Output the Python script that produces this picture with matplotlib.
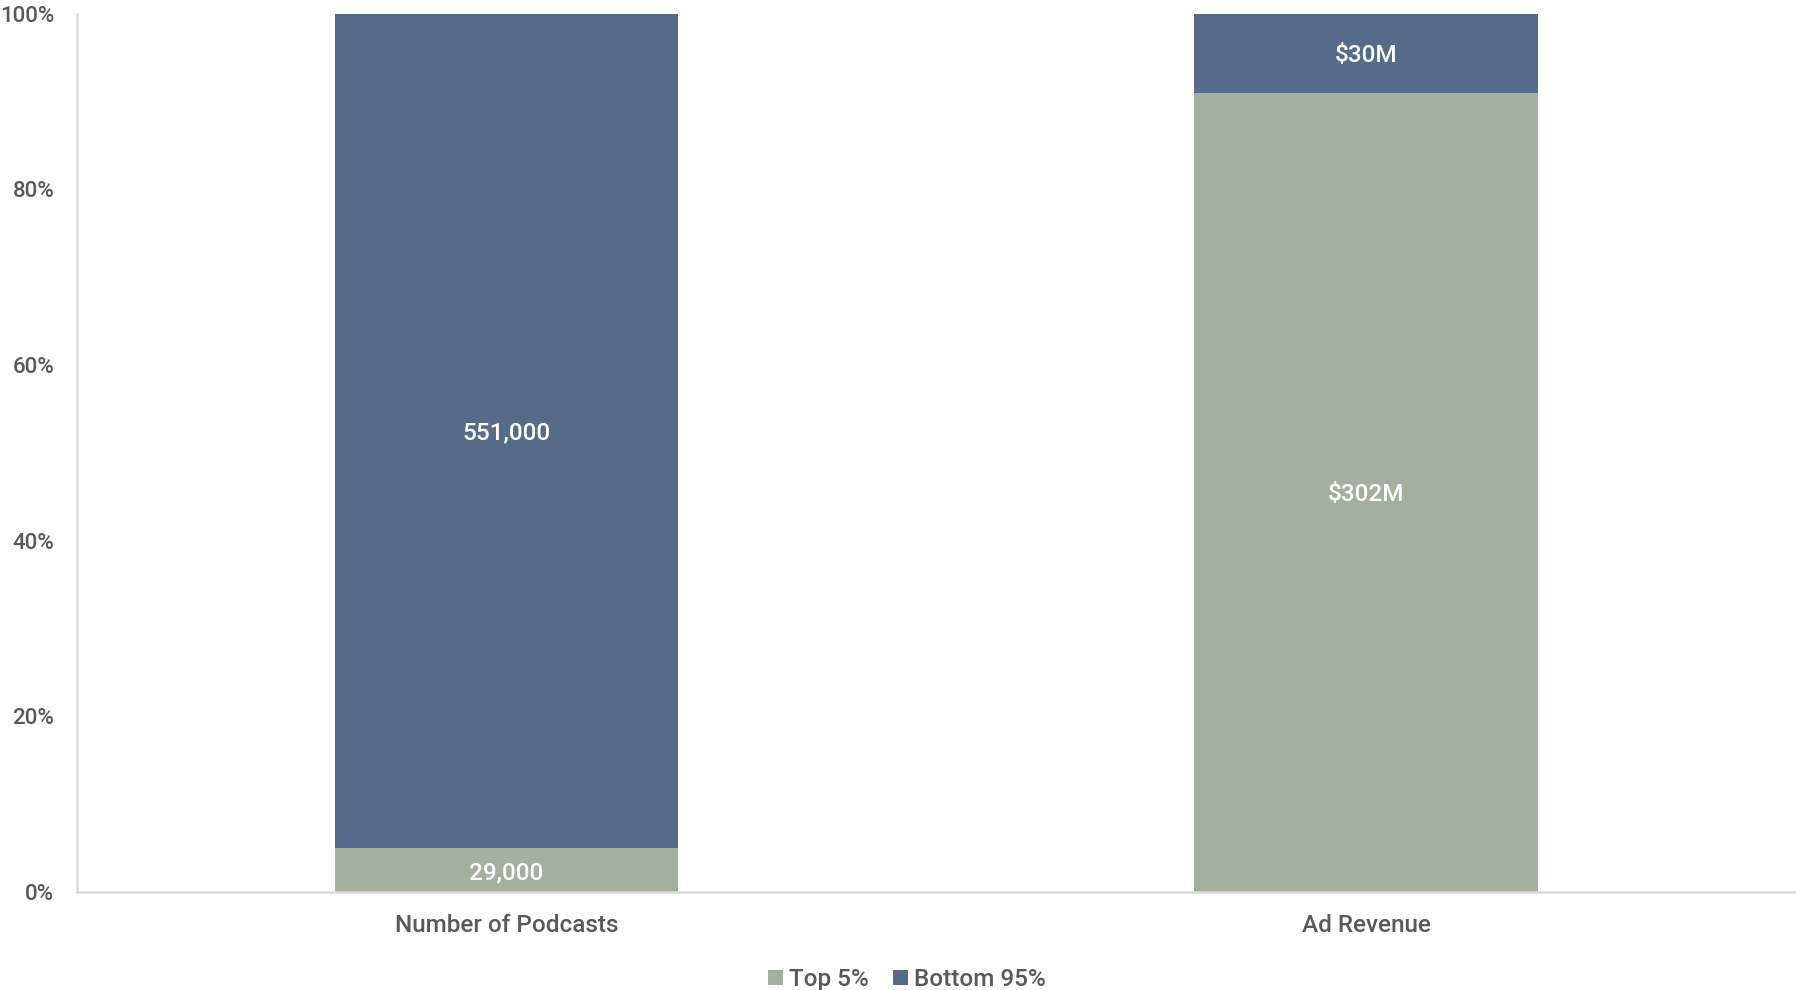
import numpy as np
import matplotlib.pyplot as plt

plt.rcParams['font.family'] = ['Roboto', 'DejaVu Sans']
plt.rcParams['font.weight'] = 500

# 数据
categories = ['Number of Podcasts', 'Ad Revenue']
top5 = np.array([29000, 302])
bottom95 = np.array([551000, 30])
top5_labels = ['29,000', '$302M']
bottom95_labels = ['551,000', '$30M']

total = top5 + bottom95
top_share = top5 / total * 100
bottom_share = bottom95 / total * 100

c_top = '#A3B09F'
c_bot = '#566A8A'
grey = '#595959'

fig = plt.figure(figsize=(17.96, 9.9), dpi=100)
ax = fig.add_axes([76.7 / 1796, 1 - 892 / 990, 1 - 76.7 / 1796, (892 - 13.5) / 990])

x = np.arange(len(categories))
ax.bar(x, top_share, width=0.4, color=c_top, label='Top 5%')
ax.bar(x, bottom_share, width=0.4, bottom=top_share, color=c_bot, label='Bottom 95%')

for i in range(len(categories)):
    ax.text(x[i], top_share[i] / 2, top5_labels[i], ha='center', va='center_baseline',
            color='white', fontsize=17.5)
    ax.text(x[i], top_share[i] + bottom_share[i] / 2, bottom95_labels[i],
            ha='center', va='center_baseline', color='white', fontsize=17.5)

ax.set_xlim(-0.5, 1.5)
ax.set_ylim(0, 100)
ax.set_yticks([0, 20, 40, 60, 80, 100])
ax.set_yticklabels(['0%', '20%', '40%', '60%', '80%', '100%'])
ax.set_xticks(x)
ax.set_xticklabels(categories)
ax.tick_params(length=0, labelcolor=grey)
ax.tick_params(axis='y', pad=16, labelsize=16)
ax.tick_params(axis='x', pad=16, labelsize=17.5)

for s in ['top', 'right']:
    ax.spines[s].set_visible(False)
for s in ['left', 'bottom']:
    ax.spines[s].set_color('#D9D9D9')
    ax.spines[s].set_linewidth(1.8)

fig.legend(loc='lower center', bbox_to_anchor=(0.505, -0.023), ncol=2, frameon=False,
           fontsize=17.5, labelcolor=grey, handlelength=0.6, handleheight=0.6,
           handletextpad=0.25, columnspacing=1.0)

fig.savefig('out.png', dpi=100)
